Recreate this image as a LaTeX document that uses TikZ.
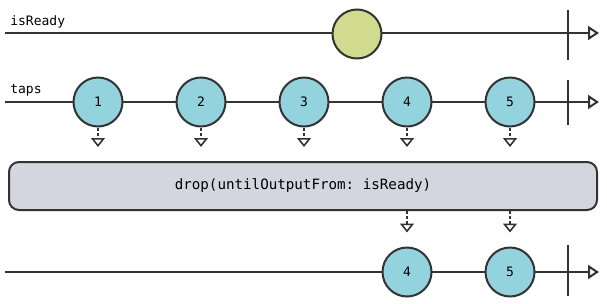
\documentclass[tikz,border=0pt]{standalone}
\usepackage{fontspec}
\setmonofont{DejaVu Sans Mono}
\usetikzlibrary{arrows.meta,positioning}
\definecolor{linegray}{HTML}{333333}
\definecolor{tapblue}{HTML}{92D3DE}
\definecolor{readygreen}{HTML}{D1DB8D}
\definecolor{boxgray}{HTML}{D3D6DE}
\begin{document}
\begin{tikzpicture}[x=1pt,y=-1pt,line width=2pt,font=\ttfamily\fontsize{13}{15}\selectfont]
	\tikzset{
		timeline/.style={draw=linegray,-{Triangle[open,length=11pt,width=14pt]}},
		endtick/.style={draw=linegray},
		marble/.style={circle,draw=linegray,fill=tapblue,minimum size=49pt,inner sep=0pt},
		feed/.style={draw=linegray,line width=1.5pt,dash pattern=on 3pt off 2pt,
			-{Triangle[open,length=9pt,width=14pt,line width=1.6pt]},shorten >=14pt},
		opbox/.style={draw=linegray,fill=boxgray,rounded corners=10pt,minimum width=588pt,minimum height=48pt,inner sep=0pt,
			font=\ttfamily\fontsize{14.2}{16}\selectfont}
	}
	\useasboundingbox (0,0) rectangle (607,303);
	% isReady
	\coordinate (r0) at (5,33);
	\coordinate (r1) at (599,33);
	\draw[timeline] (r0) -- (r1);
	\draw[endtick] (568,10) -- (568,60);
	\node[anchor=base west] (rl) at (6,25.5) {isReady};
	\node[marble,fill=readygreen] (r) at (357,34) {};
	% taps
	\coordinate (t0) at (5,102);
	\coordinate (t6) at (599,102);
	\draw[timeline] (t0) -- (t6);
	\draw[endtick] (568,80) -- (568,125);
	\node[anchor=base west] (tl) at (6,93.5) {taps};
	\foreach \i/\x in {1/98,2/201,3/304,4/407,5/510}
	\node[marble] (t\i) at (\x,102) {\i};
	% operator
	\node[opbox] (box) at (303,186) {drop(untilOutputFrom: isReady)};
	\foreach \i in {1,...,5}
	\draw[feed] (t\i.south) -- (t\i.south |- box.north);
	% output
	\coordinate (o0) at (5,272);
	\coordinate (o6) at (599,272);
	\draw[timeline] (o0) -- (o6);
	\draw[endtick] (568,245) -- (568,296);
	\foreach \i/\x in {4/407,5/510}{
		\node[marble] (o\i) at (\x,272) {\i};
		\draw[feed] (o\i.north |- box.south) -- (o\i.north);
	}
\end{tikzpicture}
\end{document}
